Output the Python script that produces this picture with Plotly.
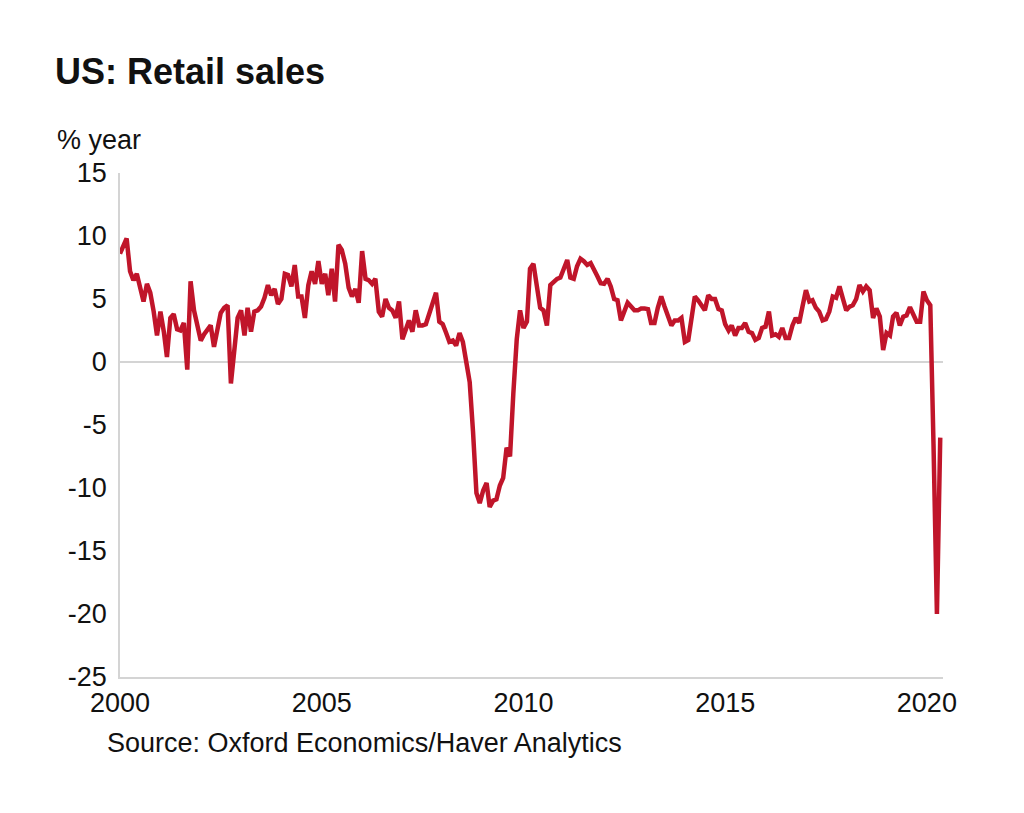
import pandas as pd
import plotly.graph_objects as go

# 1. Data: US retail sales, % year, monthly Jan 2000 - May 2020
start_month = "2000-01-01"

sales_2000_2004 = [
    8.6, 9.2, 9.8, 7.2, 6.5, 7.0, 5.9, 4.8, 6.2, 5.5, 4.0, 2.1,
    4.0, 2.4, 0.4, 3.5, 3.8, 2.6, 2.5, 3.1, -0.6, 6.4, 4.1, 3.0,
    1.7, 2.2, 2.5, 2.9, 1.2, 2.7, 3.9, 4.3, 4.5, -1.7, 1.1, 3.5,
    4.1, 2.1, 4.3, 2.4, 4.0, 4.1, 4.4, 5.1, 6.1, 5.3, 5.8, 4.6,
    5.0, 7.0, 6.9, 6.0, 7.7, 5.2, 5.2, 3.5, 6.1, 7.2, 6.2, 8.0,
]
sales_2005_2009 = [
    6.2, 7.0, 5.3, 7.4, 4.8, 9.3, 8.9, 7.8, 5.9, 5.2, 5.8, 4.7,
    8.8, 6.6, 6.5, 6.2, 6.6, 4.0, 3.6, 5.0, 4.3, 4.1, 3.5, 4.8,
    1.8, 2.7, 3.3, 2.4, 4.1, 2.9, 2.9, 3.0, 3.8, 4.6, 5.5, 3.2,
    3.0, 2.3, 1.6, 1.7, 1.3, 2.3, 1.6, 0.0, -1.6, -5.5, -10.4, -11.2,
    -10.2, -9.6, -11.5, -11.0, -10.9, -9.8, -9.2, -6.8, -7.5, -2.5, 1.8, 4.1,
]
sales_2010_2014 = [
    2.7, 3.2, 7.4, 7.8, 6.0, 4.3, 4.1, 2.9, 6.1, 6.4, 6.6, 6.7,
    7.3, 8.1, 6.7, 6.6, 7.6, 8.2, 8.0, 7.7, 7.85, 7.4, 6.8, 6.25,
    6.2, 6.6, 6.0, 5.0, 4.9, 3.3, 4.0, 4.7, 4.4, 4.1, 4.1, 4.25,
    4.25, 4.2, 3.1, 3.1, 4.3, 5.2, 4.4, 3.5, 2.9, 3.3, 3.3, 3.5,
    1.6, 1.75, 3.5, 5.2, 4.9, 4.5, 4.1, 5.3, 5.0, 5.0, 4.2, 4.1,
]
sales_2015_2020 = [
    3.0, 2.5, 2.9, 2.1, 2.7, 2.7, 3.1, 2.4, 2.3, 1.75, 1.9, 2.7,
    2.8, 4.0, 2.1, 2.2, 2.0, 2.7, 1.9, 1.9, 2.9, 3.5, 3.1, 4.4,
    5.7, 4.8, 4.9, 4.3, 4.0, 3.3, 3.4, 4.0, 5.2, 5.1, 6.0, 5.05,
    4.1, 4.4, 4.5, 5.0, 6.1, 5.6, 6.0, 5.7, 3.5, 4.25, 3.6, 0.95,
    2.3, 2.1, 3.6, 3.9, 2.9, 3.6, 3.7, 4.35, 3.7, 3.2, 3.2, 5.6,
    4.9, 4.5, -6.5, -20.0, -6.0,
]

retail_sales = sales_2000_2004 + sales_2005_2009 + sales_2010_2014 + sales_2015_2020
months = pd.date_range(start_month, periods=len(retail_sales), freq="MS")

y_ticks = [-25, -20, -15, -10, -5, 0, 5, 10, 15]
y_tick_labels = ["-25", "-20", "-15", "-10", "-5", "0", "5", "10", "15"]
x_ticks = ["2000-01-01", "2005-01-01", "2010-01-01", "2015-01-01", "2020-01-01"]
x_tick_labels = ["2000", "2005", "2010", "2015", "2020"]

font_family = "Liberation Sans, Arial, sans-serif"
line_color = "#c0152a"
axis_grey = "#d4d4d4"

# page body adds an 8px offset, so layout is placed 8px up/left
off = 8
plot_l, plot_r, plot_t, plot_b = 120 - off, 943 - off, 173 - off, 677 - off
plot_w, plot_h = plot_r - plot_l, plot_b - plot_t

# 2. Figure
fig = go.Figure()
fig.add_trace(go.Scatter(
    x=months,
    y=retail_sales,
    mode="lines",
    line=dict(color=line_color, width=4.5),
    hoverinfo="x+y",
    showlegend=False,
))

fig.update_layout(
    width=1024,
    height=813,
    margin=dict(l=plot_l, r=1024 - plot_r, t=plot_t, b=813 - plot_b),
    paper_bgcolor="white",
    plot_bgcolor="white",
    font=dict(family=font_family, size=27, color="#111111"),
    title=dict(
        text="<b>US: Retail sales</b>",
        x=(55 - off) / 1024,
        xanchor="left",
        y=1 - (71 - off) / 813,
        yanchor="middle",
        font=dict(family=font_family, size=36, color="#111111"),
    ),
)

fig.update_xaxes(
    range=["2000-01-01", "2020-05-26"],
    tickvals=x_ticks,
    ticktext=x_tick_labels,
    showgrid=False,
    zeroline=False,
    showline=True,
    linecolor=axis_grey,
    linewidth=1.5,
    ticks="outside",
    ticklen=1,
    tickcolor="rgba(0,0,0,0)",
    tickfont=dict(size=27),
)
fig.update_yaxes(
    range=[-25, 15],
    tickvals=y_ticks,
    ticktext=y_tick_labels,
    showgrid=False,
    zeroline=True,
    zerolinecolor=axis_grey,
    zerolinewidth=1.5,
    showline=True,
    linecolor=axis_grey,
    linewidth=1.5,
    ticks="outside",
    ticklen=6,
    tickcolor="rgba(0,0,0,0)",
    tickfont=dict(size=27),
)

# 3. Unit label and source
fig.add_annotation(
    text="% year",
    xref="paper", yref="paper",
    x=(55 - 120) / plot_w, y=1 + (173 - 140) / plot_h,
    xanchor="left", yanchor="middle",
    showarrow=False,
    font=dict(size=27),
)
fig.add_annotation(
    text="Source: Oxford Economics/Haver Analytics",
    xref="paper", yref="paper",
    x=(105 - 120) / plot_w, y=-(743 - 677) / plot_h,
    xanchor="left", yanchor="middle",
    showarrow=False,
    font=dict(size=27),
)

fig.write_html("out.html", config={"displayModeBar": False})
